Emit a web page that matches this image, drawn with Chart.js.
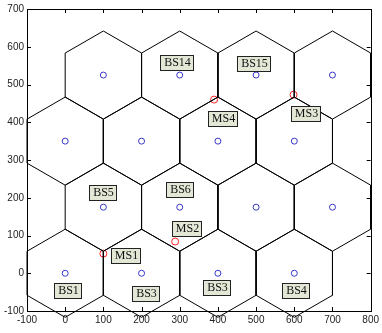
<!DOCTYPE html>
<html>
<head>
<meta charset="utf-8">
<script src="https://cdn.jsdelivr.net/npm/chart.js@4/dist/chart.umd.min.js"></script>
<style>
  body { margin: 0; background: #fff; }
  canvas { display: block; }
</style>
</head>
<body>
<canvas id="myChart" width="382" height="333"></canvas>
<script>
// base station centres (cell layout)
const bsX = [0, 200, 400, 600, 100, 300, 500, 700, 0, 200, 400, 600, 100, 300, 500, 700];
const bsY = [0, 0, 0, 0, 175, 175, 175, 175, 350, 350, 350, 350, 525, 525, 525, 525];

// mobile stations
const msX = [100, 288, 390, 598];
const msY = [52, 84, 460, 473];

// text labels
const labelText = ['BS14', 'BS15', 'MS4', 'MS3', 'BS5', 'BS6', 'MS2', 'MS1', 'BS1', 'BS3', 'BS3', 'BS4'];
const labelX = [293, 494, 413, 631, 98, 300, 319, 159, 8, 211, 398, 604];
const labelY = [559, 556, 412, 425, 215, 222, 120, 48, -44, -53, -37, -44];

const xTicks = [-100, 0, 100, 200, 300, 400, 500, 600, 700, 800];
const yTicks = [-100, 0, 100, 200, 300, 400, 500, 600, 700];

// hexagon outline around each centre
const halfW = 100, rTop = 116.7, rSide = 58.3;
function hexPoints (cx, cy) {
    return [
        {x: cx, y: cy + rTop},
        {x: cx + halfW, y: cy + rSide},
        {x: cx + halfW, y: cy - rSide},
        {x: cx, y: cy - rTop},
        {x: cx - halfW, y: cy - rSide},
        {x: cx - halfW, y: cy + rSide},
        {x: cx, y: cy + rTop}
    ];
}

const hexSets = bsX.map((x, i) => ({
    data: hexPoints(x, bsY[i]),
    showLine: true,
    borderColor: '#000',
    borderWidth: 1,
    pointRadius: 0,
    tension: 0,
    fill: false,
    clip: false
}));

const labelPlugin = {
    id: 'labels',
    afterDatasetsDraw (chart) {
        const ctx = chart.ctx;
        const xs = chart.scales.x, ys = chart.scales.y;
        ctx.save();
        ctx.font = '12px "Liberation Serif", "Times New Roman", serif';
        ctx.textAlign = 'center';
        ctx.textBaseline = 'middle';
        labelText.forEach((t, i) => {
            const px = Math.round(xs.getPixelForValue(labelX[i]));
            const py = Math.round(ys.getPixelForValue(labelY[i]));
            const w = Math.round(ctx.measureText(t).width) + 6;
            const h = 15;
            const left = px - Math.round(w / 2), top = py - 7;
            ctx.fillStyle = '#e3e7d6';
            ctx.fillRect(left, top, w, h);
            ctx.strokeStyle = '#222';
            ctx.lineWidth = 1;
            ctx.strokeRect(left + 0.5, top + 0.5, w, h);
            ctx.fillStyle = '#111';
            ctx.fillText(t, px + 0.5, py + 1);
        });
        ctx.restore();
    },
    afterDraw (chart) {
        const ctx = chart.ctx;
        const a = chart.chartArea;
        const xs = chart.scales.x, ys = chart.scales.y;
        ctx.save();
        ctx.strokeStyle = '#000';
        ctx.lineWidth = 1;
        ctx.strokeRect(Math.round(a.left) + 0.5, Math.round(a.top) + 0.5,
            Math.round(a.right - a.left), Math.round(a.bottom - a.top));
        ctx.beginPath();
        xTicks.forEach(v => {
            const p = Math.round(xs.getPixelForValue(v)) + 0.5;
            ctx.moveTo(p, a.bottom); ctx.lineTo(p, a.bottom - 4);
            ctx.moveTo(p, a.top); ctx.lineTo(p, a.top + 4);
        });
        yTicks.forEach(v => {
            const p = Math.round(ys.getPixelForValue(v)) + 0.5;
            ctx.moveTo(a.left, p); ctx.lineTo(a.left + 4, p);
            ctx.moveTo(a.right, p); ctx.lineTo(a.right - 4, p);
        });
        ctx.stroke();
        ctx.restore();
    }
};

const ctx = document.getElementById('myChart').getContext('2d');
const chart = new Chart(ctx, {
    type: 'scatter',
    data: {
        datasets: [
            ...hexSets,
            {
                data: bsX.map((x, i) => ({x: x, y: bsY[i]})),
                pointStyle: 'circle',
                pointRadius: 3,
                borderColor: '#3636c8',
                backgroundColor: 'rgba(0,0,0,0)',
                borderWidth: 1
            },
            {
                data: msX.map((x, i) => ({x: x, y: msY[i]})),
                pointStyle: 'circle',
                pointRadius: 3.5,
                borderColor: '#ff2222',
                backgroundColor: 'rgba(0,0,0,0)',
                borderWidth: 1,
                clip: false
            }
        ]
    },
    options: {
        responsive: false,
        animation: false,
        devicePixelRatio: 1,
        layout: { padding: { top: 5, right: 8, left: 0, bottom: 0 } },
        plugins: { legend: { display: false }, tooltip: { enabled: false } },
        scales: {
            x: {
                type: 'linear',
                min: -100, max: 800,
                afterBuildTicks: s => { s.ticks = xTicks.map(v => ({value: v})); },
                afterFit: s => { s.height = 22; },
                grid: { display: false, drawTicks: false },
                border: { display: false },
                ticks: { padding: 3, color: '#222', maxRotation: 0, font: { family: '"Liberation Sans", Arial, sans-serif', size: 10 } }
            },
            y: {
                type: 'linear',
                min: -100, max: 700,
                afterBuildTicks: s => { s.ticks = yTicks.map(v => ({value: v})); },
                afterFit: s => { s.width = 27; },
                grid: { display: false, drawTicks: false },
                border: { display: false },
                ticks: { padding: 3, color: '#222', font: { family: '"Liberation Sans", Arial, sans-serif', size: 10 } }
            }
        }
    },
    plugins: [labelPlugin]
});
</script>
</body>
</html>
